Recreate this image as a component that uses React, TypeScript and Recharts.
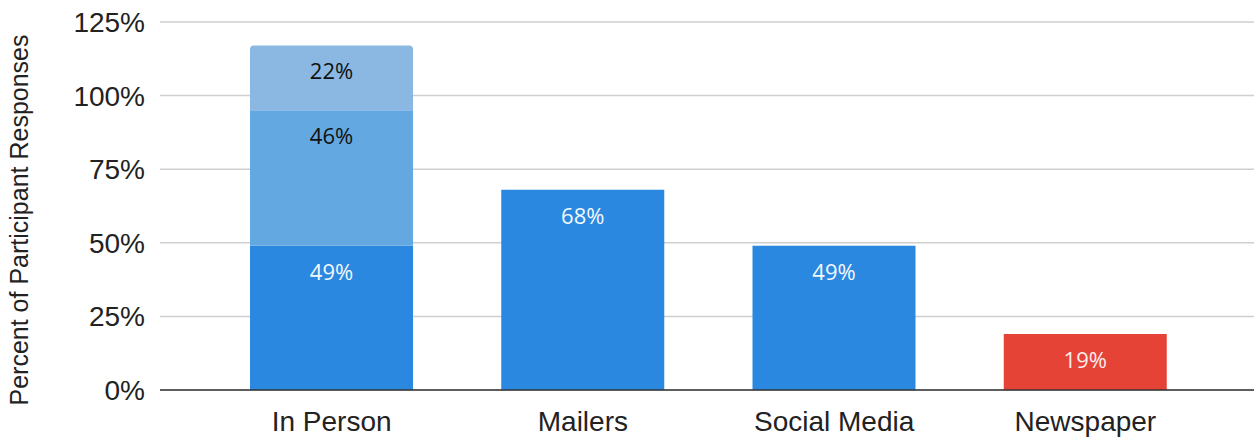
import React from 'react';
import { BarChart, Bar, XAxis, YAxis, CartesianGrid, LabelList } from 'recharts';

const categories = ['In Person', 'Mailers', 'Social Media', 'Newspaper'];
const baseValues = [49, 68, 49, null];
const secondValues = [46, null, null, null];
const thirdValues = [22, null, null, null];
const newspaperValues = [null, null, null, 19];
const yTicks = [0, 25, 50, 75, 100, 125];

const data = categories.map((c, i) => ({
  name: c,
  base: baseValues[i],
  second: secondValues[i],
  third: thirdValues[i],
  red: newspaperValues[i],
}));

const LABEL_FONT = '"Open Sans", sans-serif';
const AXIS_FONT = '"Liberation Sans", Arial, sans-serif';

const makeLabel = (color: string) => (props: any) => {
  const { x, y, width, value } = props;
  if (value === null || value === undefined) return null;
  const fs = 22;
  return (
    <text
      x={x + width / 2}
      y={y + 26 + 0.357 * fs}
      textAnchor="middle"
      fill={color}
      fontSize={fs}
      fontFamily={LABEL_FONT}
    >
      {`${value}%`}
    </text>
  );
};

const YTitle = (props: any) => {
  const { viewBox } = props;
  const cy = viewBox.y + viewBox.height / 2 + 14;
  const x = 28;
  return (
    <text
      x={x}
      y={cy}
      transform={`rotate(-90, ${x}, ${cy})`}
      textAnchor="middle"
      fill="#222"
      fontSize={25}
      fontFamily={AXIS_FONT}
    >
      Percent of Participant Responses
    </text>
  );
};

export default function App() {
  return (
    <div style={{ position: 'absolute', left: 0, top: 0, background: '#fff' }}>
      <BarChart
        width={1254}
        height={438}
        data={data}
        margin={{ top: 22, right: 0, bottom: 0, left: 0 }}
        barSize={163}
      >
        <CartesianGrid vertical={false} stroke="#cfcfcf" strokeWidth={1.5} />
        <XAxis
          dataKey="name"
          height={48}
          tickLine={false}
          axisLine={{ stroke: '#333', strokeWidth: 1.5 }}
          tickMargin={15}
          padding={{ left: 46, right: 43 }}
          tick={{ fill: '#222', fontSize: 28, fontFamily: AXIS_FONT }}
          interval={0}
        />
        <YAxis
          width={160}
          domain={[0, 125]}
          ticks={yTicks}
          tickFormatter={(v: number) => `${v}%`}
          axisLine={false}
          tickLine={false}
          tickMargin={9}
          tick={{ fill: '#222', fontSize: 28, fontFamily: AXIS_FONT }}
          label={<YTitle />}
        />
        <Bar dataKey="base" stackId="a" fill="#2a88e0" isAnimationActive={false}>
          <LabelList dataKey="base" content={makeLabel('#f4f8fc')} />
        </Bar>
        <Bar dataKey="second" stackId="a" fill="#63a8e0" isAnimationActive={false}>
          <LabelList dataKey="second" content={makeLabel('#111')} />
        </Bar>
        <Bar dataKey="third" stackId="a" fill="#8ab8e2" radius={[4, 4, 0, 0]} isAnimationActive={false}>
          <LabelList dataKey="third" content={makeLabel('#111')} />
        </Bar>
        <Bar dataKey="red" stackId="a" fill="#e64337" isAnimationActive={false}>
          <LabelList dataKey="red" content={makeLabel('#fbeeee')} />
        </Bar>
      </BarChart>
    </div>
  );
}
